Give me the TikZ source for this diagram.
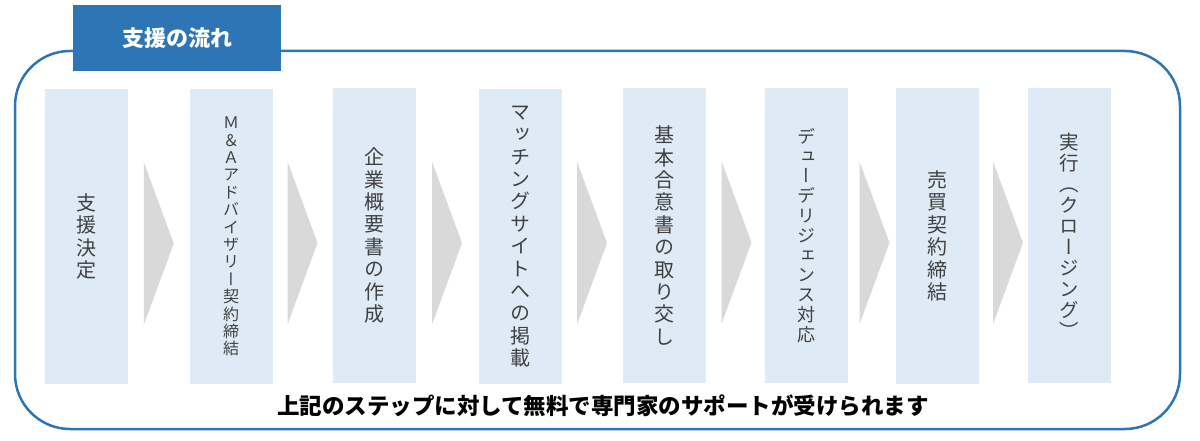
\documentclass[tikz,border=0pt]{standalone}
\usepackage{fontspec}
\usetikzlibrary{calc}
\newfontfamily\cjk{Noto Sans CJK JP}
\newfontfamily\cjkv[RawFeature=+vert]{Noto Sans CJK JP}
\definecolor{frameblue}{HTML}{2E75B6}
\definecolor{boxblue}{HTML}{DEEBF7}
\definecolor{chevgray}{HTML}{D9D9D9}
\definecolor{txtgray}{HTML}{404040}
\tikzset{
  stepbox/.style={fill=boxblue, minimum width=83pt, minimum height=295pt, inner sep=0pt,
    align=center, text=txtgray, font=\cjkv\fontsize{20}{22.4}\selectfont},
  smallstep/.style={stepbox, font=\cjkv\fontsize{16}{17.4}\selectfont},
  midstep/.style={stepbox, font=\cjkv\fontsize{18}{19.8}\selectfont},
  tabbox/.style={fill=frameblue, minimum width=208pt, minimum height=66pt, inner sep=0pt,
    text=white, font=\cjk\bfseries\fontsize{22}{24}\selectfont},
  frameline/.style={draw=frameblue, line width=2.5pt, rounded corners=55pt},
  chev/.style={fill=chevgray},
  note/.style={font=\cjk\bfseries\fontsize{22.5}{24}\selectfont, text=black, inner sep=0pt}
}
\newcommand\chevron[1]{\fill[chev] ($(#1)+(-15,-81.5)$) -- ($(#1)+(15,0)$) -- ($(#1)+(-15,81.5)$) -- cycle;}
\begin{document}
\begin{tikzpicture}[x=1pt,y=-1pt]
\useasboundingbox (0,0) rectangle (1200,441);
\fill[white] (0,0) rectangle (1200,441);
\draw[frameline] (15,51) rectangle (1180,429);
\node[tabbox] (tab) at (177,38) {支援の流れ};
\node[stepbox] (s1) at (86.5,236.5) {支\\援\\決\\定};
\node[smallstep] (s2) at (231,236.5) {Ｍ\\＆\\Ａ\\ア\\ド\\バ\\イ\\ザ\\リ\\ー\\契\\約\\締\\結};
\node[stepbox] (s3) at (374,235.5) {企\\業\\概\\要\\書\\の\\作\\成};
\node[stepbox] (s4) at (520,236.5) {マ\\ッ\\チ\\ン\\グ\\サ\\イ\\ト\\へ\\の\\掲\\載};
\node[stepbox] (s5) at (664,235.5) {基\\本\\合\\意\\書\\の\\取\\り\\交\\し};
\node[midstep] (s6) at (806,235.5) {デ\\ュ\\ー\\デ\\リ\\ジ\\ェ\\ン\\ス\\対\\応};
\node[stepbox] (s7) at (937,236) {売\\買\\契\\約\\締\\結};
\node[stepbox, font=\cjkv\fontsize{19.5}{21}\selectfont] (s8) at (1069,235.5) {実\\行\\（\\ク\\ロ\\ー\\ジ\\ン\\グ\\）};
\coordinate (a1) at ($(s1.east)!0.5!(s2.west)+(0,7)$);
\coordinate (a2) at ($(s2.east)!0.5!(s3.west)+(0,7)$);
\coordinate (a3) at ($(s3.east)!0.5!(s4.west)+(0,7)$);
\coordinate (a4) at ($(s4.east)!0.5!(s5.west)+(0,7)$);
\coordinate (a5) at ($(s5.east)!0.5!(s6.west)+(1.5,7)$);
\coordinate (a6) at ($(s6.east)!0.5!(s7.west)+(3,7)$);
\coordinate (a7) at ($(s7.east)!0.5!(s8.west)+(5,7)$);
\chevron{a1}\chevron{a2}\chevron{a3}\chevron{a4}\chevron{a5}\chevron{a6}\chevron{a7}
\node[note] (note) at (603,406) {上記のステップに対して無料で専門家のサポートが受けられます};
\end{tikzpicture}
\end{document}
